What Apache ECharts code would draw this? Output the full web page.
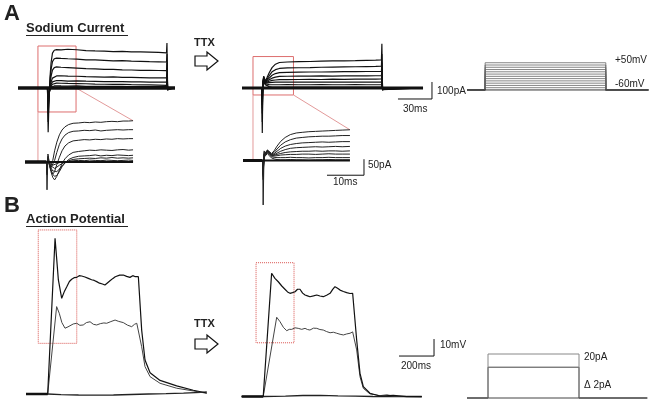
<!DOCTYPE html>
<html><head><meta charset="utf-8">
<script src="https://cdn.jsdelivr.net/npm/echarts@6/dist/echarts.min.js"></script>
<style>html,body{margin:0;padding:0;background:#fff}#c{width:651px;height:405px}</style>
</head><body><div id="c"></div><script>
// ---------- DATA ----------
// A: sodium current, control (time ms, current pA)
const naCtrlT = [0, 26, 26.6, 27.4, 28.2, 29.2, 30.4, 32, 34, 38, 44, 52, 60, 68, 76, 84, 92, 100, 108, 116, 124, 131, 131.4, 132, 133, 138.5];
const naCtrl = [
  [0,0,-260,-60,60,150,205,222,226,224,228,225,220,218,217,214,216,212,213,211,209,207,265,-15,0,0],
  [0,0,-200,-40,40,110,155,172,176,174,172,170,166,165,163,160,161,158,157,155,154,153,200,-12,0,0],
  [0,0,-150,-40,20,70,105,120,124,122,120,117,114,113,110,109,107,106,104,104,103,102,150,-10,0,0],
  [0,0,-120,-40,5,35,58,68,71,72,70,69,67,66,64,65,62,62,61,60,60,59,110,-8,0,0],
  [0,0,-100,-40,-5,20,36,42,44,43,41,42,40,39,38,37,38,36,36,35,34,34,80,-6,0,0],
  [0,0,-80,-35,-5,10,22,27,29,28,27,26,25,23,22,21,22,20,19,18,17,16,60,-5,0,0],
  [0,0,-60,-30,-8,4,10,12,13,12,11,12,10,10,9,10,9,8,9,8,8,8,40,-4,0,0],
  [0,0,-50,-25,-6,0,3,5,4,5,3,4,5,3,4,3,4,3,4,3,3,3,30,-3,0,0]
];
// A: sodium current, TTX
const naTtxT = [0, 17.5, 17.9, 18.4, 19.2, 20.5, 22, 24, 26.5, 29.5, 33, 40, 50, 60, 70, 80, 90, 100, 110, 118, 123, 123.4, 124, 125, 159.7];
const naTtx = [
  [0,0,-265,40,70,40,60,90,120,140,150,153,155,156,158,159,160,161,163,164,166,260,-15,0,0],
  [0,0,-200,35,65,38,50,72,95,108,115,118,119,120,122,123,124,125,126,127,128,200,-12,0,0],
  [0,0,-150,30,60,36,42,58,75,85,90,92,93,94,94,95,96,96,97,97,98,150,-10,0,0],
  [0,0,-120,25,55,34,38,48,58,64,68,69,70,70,71,70,71,72,71,72,72,110,-8,0,0],
  [0,0,-100,22,50,32,34,40,45,47,49,49,50,51,50,52,51,52,53,52,53,80,-6,0,0],
  [0,0,-80,20,45,30,30,32,33,34,34,34,35,34,35,35,34,35,35,35,35,60,-5,0,0],
  [0,0,-60,18,40,26,22,20,19,19,19,20,19,19,20,19,19,20,19,19,19,40,-4,0,0],
  [0,0,-50,15,35,20,12,8,6,5,5,5,6,5,5,6,5,5,5,5,5,30,-3,0,0]
];
// A: zoomed insets
const insCtrlT = [0, 5.8, 5.95, 6.2, 6.6, 7.0, 7.5, 8.0, 8.6, 9.3, 10.0, 10.8, 11.8, 13, 14.5, 16, 17.5, 19, 20.5, 22, 23.5, 25, 26.5, 28, 29.2];
const insCtrl = [
  [0,0,-87,25,-5,-12,5,35,62,85,100,110,117,121,122,124,123,125,124,126,127,126,128,128,129],
  [0,0,-40,18,-5,-18,-15,5,30,55,72,84,92,96,97,99,98,100,97,99,100,101,100,101,101],
  [0,0,-35,15,-8,-25,-38,-30,-8,15,35,50,60,66,68,70,69,71,70,72,71,73,72,73,73],
  [0,0,-30,12,-10,-30,-48,-56,-45,-25,-5,10,22,30,33,35,37,36,38,37,36,38,39,37,38],
  [0,0,-25,10,-8,-25,-38,-45,-42,-30,-15,-3,8,14,18,19,20,22,19,21,20,22,21,20,21],
  [0,0,-20,8,-6,-18,-28,-32,-30,-22,-12,-3,4,8,10,11,12,11,13,12,14,12,13,12,13],
  [0,0,-15,6,-5,-12,-18,-20,-16,-10,-5,-1,2,4,5,4,6,5,4,6,5,4,5,6,5],
  [0,0,-10,5,-3,-8,-10,-8,-5,-2,0,1,2,1,2,2,1,2,3,2,1,2,2,1,2]
];
const insTtxT = [0, 5.3, 5.45, 5.7, 6.1, 6.6, 7.1, 7.7, 8.4, 9.2, 10.2, 11.4, 12.8, 14.4, 16, 17.8, 19.6, 21.4, 23.2, 25, 26.8, 28.9];
const insTtx = [
  [0,0,-139,30,20,33,28,22,30,45,60,72,81,86,88,90,91,92,93,94,95,96],
  [0,0,-60,25,18,32,26,20,25,36,48,58,65,70,72,74,75,76,76,77,78,78],
  [0,0,-50,22,16,31,25,18,21,29,38,45,50,53,55,56,57,58,57,58,59,59],
  [0,0,-45,20,15,30,24,17,18,23,29,34,38,40,41,42,43,42,43,44,43,44],
  [0,0,-40,18,14,29,23,16,16,19,22,25,27,28,29,29,30,29,30,30,29,30],
  [0,0,-35,15,12,27,21,14,14,15,17,18,19,19,20,20,19,20,21,20,20,20],
  [0,0,-30,12,10,25,18,12,10,9,9,9,10,9,9,8,9,9,10,9,9,9],
  [0,0,-25,10,8,22,15,8,5,3,2,2,3,2,2,1,2,2,3,2,2,2]
];
// A: voltage protocol (mV)
const vHold = -70;
const vSteps = [-60,-50,-40,-30,-20,-10,0,10,20,30,40,50];
const vStepTimes = [16, 122.5, 160]; // on, off, end (ms)

// B: action potentials (ms, mV)
const apCtrlUpper = [[0,-65],[124,-65],[166,26.6],[185,2.1],[204,-8.7],[220,-4.5],[233,-1.9],[248,1.2],[261,2.5],[275,3.4],[290,3.6],[304,4.6],[318,4.4],[337,3.8],[356,3.0],[375,2.2],[390,1.8],[404,1.1],[420,0.2],[437,-0.3],[451,-0.9],[465,0.3],[480,1.6],[497,3.0],[510,4.0],[518,4.4],[535,4.9],[556,5.0],[575,4.2],[594,3.6],[610,4.6],[625,4.0],[633,4.4],[642,4.0],[661,-27.4],[680,-45],[709,-52.5],[766,-57],[861,-60.2],[956,-62.8],[1033,-64.4]];
const apCtrlLower = [[0,-65],[124,-65],[175,-13.6],[190,-17.5],[205,-23],[223,-26.3],[240,-25.5],[251,-25],[270,-23.8],[290,-23.4],[308,-24.6],[327,-24.4],[345,-23],[366,-22.5],[385,-24],[404,-24.4],[425,-23.6],[445,-23.2],[461,-23.4],[485,-22.4],[509,-21.5],[530,-22.3],[556,-23],[580,-24.5],[604,-25.4],[620,-24],[633,-23.4],[642,-24.4],[661,-37.2],[680,-48.9],[709,-54.8],[766,-58.7],[861,-61.6],[956,-63.2],[1033,-64.6]];
const apCtrlFlat = [[0,-65],[60,-64.8],[124,-65],[200,-65.4],[300,-65.6],[400,-65.7],[500,-65.6],[600,-65.3],[700,-65],[800,-64.8],[900,-64.5],[1000,-64],[1033,-63.8]];
const apTtxUpper = [[0,-65],[123,-65],[171,7.5],[190,4.5],[209,2.5],[229,0],[247,-1.9],[262,-3.5],[276,-4.3],[290,-3.9],[305,-3.4],[319,-1.9],[333,-1.9],[348,-4.2],[362,-5.3],[376,-5.8],[390,-6.3],[410,-5.8],[429,-5.3],[447,-5.9],[466,-6.3],[485,-5.4],[505,-4.3],[520,-2],[533,-0.4],[548,-1.3],[562,-2.4],[581,-3.2],[600,-3.9],[619,-4.4],[634,-4.3],[642,-5.3],[657,-31.8],[676,-51.4],[695,-59.2],[733,-63.1],[790,-64.7],[866,-64.3],[943,-65.1],[1029,-65.1]];
const apTtxLower = [[0,-65],[123,-65],[200,-18.4],[219,-21],[238,-24.3],[257,-26.3],[272,-25.5],[286,-25.5],[305,-24.6],[323,-24.9],[343,-25.5],[362,-24.9],[376,-25.6],[390,-25.9],[410,-24.8],[429,-24.9],[447,-25.6],[466,-25.9],[485,-26.8],[505,-27.5],[524,-27.2],[543,-27.8],[562,-28.4],[581,-28.8],[600,-28.2],[619,-27.8],[634,-27],[642,-26.3],[657,-37.6],[676,-53.4],[695,-60.2],[733,-63.5],[790,-64.5],[830,-64],[866,-64.8],[943,-65],[1029,-65.2]];
const apTtxFlat = [[0,-65],[123,-65],[250,-64.8],[350,-64.4],[450,-64.3],[550,-64.6],[650,-64.8],[750,-65],[850,-65.1],[950,-65],[1029,-65]];
// B: current protocol (pA)
const iSteps = [14, 20];
const iStepTimes = [120, 640, 1030];

// zoom boxes [t0, t1, v0, v1]
const boxNaCtrl = [17.6, 51.2, -141, 247];
const boxNaTtx = [9.7, 45.4, -41, 185];
const boxApCtrl = [70, 290, -35.2, 31.5];
const boxApTtx = [82, 299, -33.4, 13.7];

// scale bars: [x0, y0, dx, dy]
const barNa = [137.6, -64.7, 30, 100];
const barIns = [22.7, -46, 10, 50];
const barAp = [899, -41.2, 200, 10];

// ---------- LAYOUT ----------
const grids = [
  {left:18, top:37, width:158.7, height:98.6, x:[0,140], y:[-280,300]},     // 0 Na ctrl
  {left:242, top:37, width:192.7, height:98.6, x:[0,170], y:[-280,300]},    // 1 Na TTX
  {left:25, top:114, width:111, height:83.2, x:[0,30], y:[-110,150]},       // 2 inset ctrl
  {left:243, top:112.5, width:125.8, height:96, x:[0,34], y:[-150,150]},    // 3 inset TTX
  {left:467, top:61.6, width:181.3, height:29.5, x:[0,160], y:[-75,55]},    // 4 V protocol
  {left:26, top:224, width:182, height:178.5, x:[0,1040], y:[-70,35]},      // 5 AP ctrl
  {left:241.7, top:226.5, width:192.5, height:178.5, x:[0,1100], y:[-70,35]}, // 6 AP TTX
  {left:467, top:343, width:180.25, height:59.4, x:[0,1030], y:[-2,25]}     // 7 I protocol
];

const zip = (t, v) => t.map((x, i) => [x, v[i]]);
const series = [];
function line(gi, data, color, width, extra) {
  series.push(Object.assign({
    type:'line', xAxisIndex:gi, yAxisIndex:gi, data, symbol:'none', showSymbol:false,
    animation:false, silent:true, clip:false, lineStyle:{color, width}
  }, extra || {}));
}
function box(gi, b, color, type) {
  series.push({type:'line', xAxisIndex:gi, yAxisIndex:gi, data:[], symbol:'none', silent:true, animation:false,
    markArea:{silent:true, itemStyle:{color:'rgba(0,0,0,0)', borderColor:color, borderWidth:1, borderType:type},
      data:[[{coord:[b[0], b[3]]},{coord:[b[1], b[2]]}]]}});
}
function bar(gi, b) {
  line(gi, [[b[0], b[1]], [b[0]+b[2], b[1]], [b[0]+b[2], b[1]+b[3]]], '#111', 1);
}

// A traces
naCtrl.forEach(v => line(0, zip(naCtrlT, v), '#111', 1.2));
line(0, [[0,0],[138.5,0]], '#111', 3.5);
naTtx.forEach(v => line(1, zip(naTtxT, v), '#111', 1.2));
line(1, [[0,0],[159.7,0]], '#111', 3);
insCtrl.forEach(v => line(2, zip(insCtrlT, v), '#222', 1));
line(2, [[0,0],[5.8,0]], '#111', 3.5);
line(2, [[5.8,0],[29.2,0]], '#111', 2);
insTtx.forEach(v => line(3, zip(insTtxT, v), '#222', 1));
line(3, [[0,0],[5.3,0]], '#111', 3);
line(3, [[5.3,0],[28.9,0]], '#111', 2);
vSteps.forEach(v => line(4, [[0,vHold],[vStepTimes[0],vHold],[vStepTimes[0],v],[vStepTimes[1],v],[vStepTimes[1],vHold],[vStepTimes[2],vHold]], '#666', 0.8));
line(4, [[0,vHold],[vStepTimes[2],vHold]], '#333', 1);
box(0, boxNaCtrl, '#dd6e6e', 'solid');
box(1, boxNaTtx, '#dd6e6e', 'solid');
bar(1, barNa);
bar(3, barIns);

// B traces
line(5, apCtrlFlat, '#222', 1.3);
line(5, apCtrlLower, '#444', 1);
line(5, apCtrlUpper, '#111', 1.2);
line(6, apTtxFlat, '#222', 1.3);
line(6, apTtxLower, '#444', 1);
line(6, apTtxUpper, '#111', 1.2);
line(5, [[0,-65],[124,-65]], '#111', 2.5);
line(6, [[0,-65],[123,-65]], '#111', 2.5);
iSteps.forEach((v, i) => line(7, [[0,0],[iStepTimes[0],0],[iStepTimes[0],v],[iStepTimes[1],v],[iStepTimes[1],0],[iStepTimes[2],0]], i === 1 ? '#888' : '#444', 1));
line(7, [[0,0],[iStepTimes[2],0]], '#444', 1);
box(5, boxApCtrl, '#d9534f', 'dotted');
box(6, boxApTtx, '#d9534f', 'dotted');
bar(6, barAp);

const FF = 'Liberation Sans, Arial, sans-serif';
function txt(x, y, s, size, bold, va) {
  return {type:'text', left:x, top:y, silent:true, z:10,
    style:{text:s, fill:'#222', font:(bold ? 'bold ' : '') + size + 'px ' + FF, textVerticalAlign: va || 'top'}};
}
function arrow(x, y) {
  return {type:'polygon', silent:true, z:10, shape:{points:[[x,y-5],[x+12,y-5],[x+12,y-9],[x+23,y],[x+12,y+9],[x+12,y+5],[x,y+5]]},
    style:{fill:'#fff', stroke:'#111', lineWidth:1.2}};
}
const graphics = [
  txt(4, 3, 'A', 22, true),
  txt(26, 22, 'Sodium Current', 13, true),
  {type:'line', silent:true, shape:{x1:26, y1:35.5, x2:128, y2:35.5}, style:{stroke:'#222', lineWidth:1.2}},
  txt(194, 37, 'TTX', 11, true),
  arrow(195, 61),
  txt(437, 86, '100pA', 10, false),
  txt(403, 104, '30ms', 10, false),
  txt(368, 160, '50pA', 10, false),
  txt(333, 177, '10ms', 10, false),
  txt(615, 55, '+50mV', 10, false),
  txt(615, 79, '-60mV', 10, false),
  txt(4, 195, 'B', 22, true),
  txt(26, 213, 'Action Potential', 13, true),
  {type:'line', silent:true, shape:{x1:26, y1:226.5, x2:128, y2:226.5}, style:{stroke:'#222', lineWidth:1.2}},
  txt(194, 318, 'TTX', 11, true),
  arrow(195, 344),
  txt(440, 340, '10mV', 10, false),
  txt(401, 361, '200ms', 10, false),
  txt(584, 352, '20pA', 10, false),
  txt(584, 380, '\u0394 2pA', 10, false)
];

const chart = echarts.init(document.getElementById('c'), null, {renderer:'canvas'});
chart.setOption({
  animation:false,
  backgroundColor:'#fff',
  grid: grids.map(g => ({left:g.left, top:g.top, width:g.width, height:g.height, containLabel:false})),
  xAxis: grids.map((g, i) => ({type:'value', gridIndex:i, min:g.x[0], max:g.x[1], show:false})),
  yAxis: grids.map((g, i) => ({type:'value', gridIndex:i, min:g.y[0], max:g.y[1], show:false})),
  series
});
// zoom connector lines computed through the axes
const P = (gi, pt) => chart.convertToPixel({gridIndex:gi}, pt);
function conn(a, b) {
  return {type:'line', silent:true, z:1, shape:{x1:a[0], y1:a[1], x2:b[0], y2:b[1]}, style:{stroke:'#e39a9a', lineWidth:1}};
}
graphics.push(conn(P(0, [boxNaCtrl[0], boxNaCtrl[2]]), P(2, [3.5, 0])));
graphics.push(conn(P(0, [boxNaCtrl[1], 0]), P(2, [insCtrlT[insCtrlT.length-1], insCtrl[0][insCtrl[0].length-1]])));
graphics.push(conn(P(1, [boxNaTtx[0], boxNaTtx[2]]), P(3, [2.7, 0])));
graphics.push(conn(P(1, [boxNaTtx[1], boxNaTtx[2]]), P(3, [insTtxT[insTtxT.length-1], insTtx[0][insTtx[0].length-1]])));
chart.setOption({graphic: graphics});
</script></body></html>
